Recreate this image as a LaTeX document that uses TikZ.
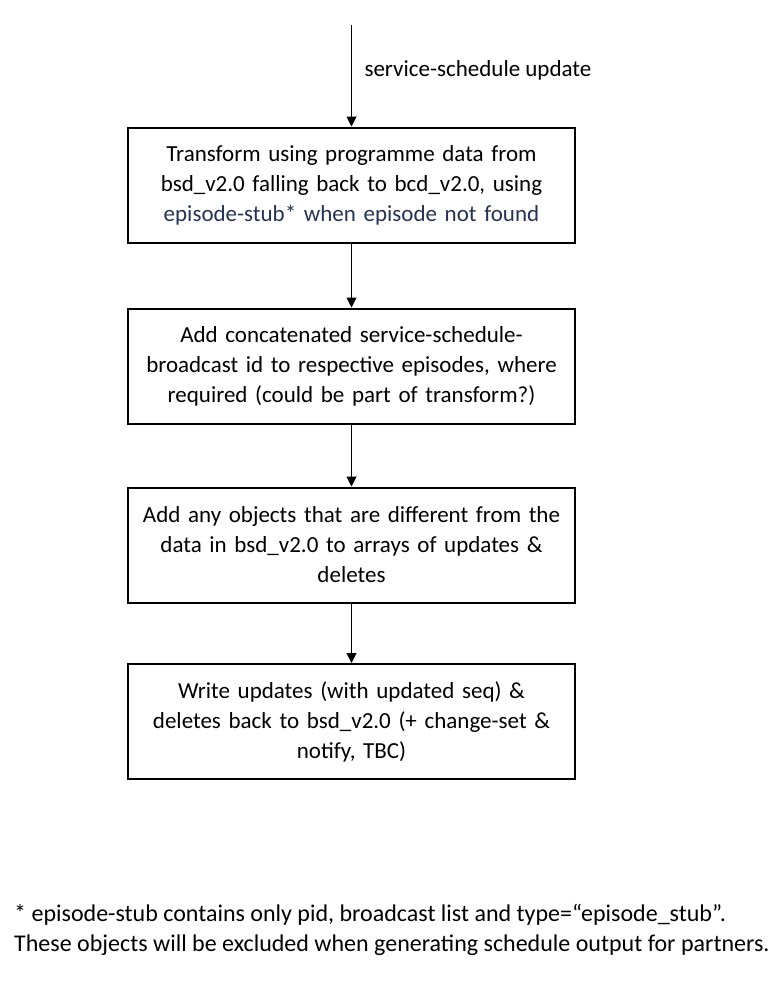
\documentclass[tikz,border=0pt]{standalone}
\usepackage{fontspec}
\setmainfont{Carlito}
\usetikzlibrary{arrows.meta,positioning}
\definecolor{stubblue}{RGB}{38,50,82}
\tikzset{
  stepbox/.style={draw, line width=2pt, minimum width=447pt, minimum height=115pt,
    text width=440pt, align=center, font=\fontsize{23}{30}\selectfont},
  flow/.style={->, line width=1pt}
}
\begin{document}
\begin{tikzpicture}[x=1pt,y=-1pt, >={Triangle[length=10pt,width=10pt]}]
        \useasboundingbox (0,0) rectangle (780,982);
        \coordinate (input) at (351.5,25);
        \node[stepbox] (transform) at (351.5,185) {Transform using programme data from\\ bsd\_v2.0 falling back to bcd\_v2.0, using\\ \textcolor{stubblue}{episode-stub* when episode not found}};  %1
        \node[stepbox] (concat) at (351.5,366) {Add concatenated service-schedule-\\ broadcast id to respective episodes, where\\ required (could be part of transform?)};  %2
        \node[stepbox] (diff) at (351.5,545) {Add any objects that are different from the\\ data in bsd\_v2.0 to arrays of updates \&\\ deletes};  %3
        \node[stepbox] (write) at (351.5,721.5) {Write updates (with updated seq) \&\\ deletes back to bsd\_v2.0 (+ change-set \&\\ notify, TBC)};  %4
        \draw[flow] (input) -- (transform);
        \draw[flow] (transform) -- (concat);
        \draw[flow] (concat) -- (diff);
        \draw[flow] (diff) -- (write);
        \node[anchor=west, font=\fontsize{23}{30}\selectfont] (inlabel) at (361,70) {service-schedule update};
        % footnote
        \node[anchor=west, align=left, inner sep=0pt, font=\fontsize{24}{30}\selectfont] (note) at (14,930) {* episode-stub contains only pid, broadcast list and type=“episode\_stub”.\\ These objects will be excluded when generating schedule output for partners.};
\end{tikzpicture}
\end{document}
